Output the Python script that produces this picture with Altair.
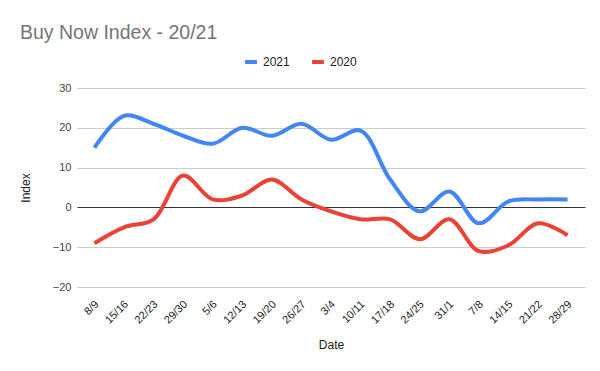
import altair as alt
import pandas as pd

dates = ["8/9", "15/16", "22/23", "29/30", "5/6", "12/13", "19/20", "26/27", "3/4",
         "10/11", "17/18", "24/25", "31/1", "7/8", "14/15", "21/22", "28/29"]
idx_2021 = [15, 23, 21, 18, 16, 20, 18, 21, 17, 19.3, 7, -1, 4, -4, 1.5, 2, 2]
idx_2020 = [-9, -5, -3, 8, 2, 3, 7, 2, -1, -3, -3, -8, -3, -11, -9.5, -4, -7]
series = ["2021", "2020"]
colors = ["#4285F4", "#EA4335"]
y_ticks = [-20, -10, 0, 10, 20, 30]

rows = []
for i, d in enumerate(dates):
    rows.append({"Date": d, "Index": idx_2021[i], "Series": "2021", "order": i})
    rows.append({"Date": d, "Index": idx_2020[i], "Series": "2020", "order": i})
df = pd.DataFrame(rows)

chart = alt.Chart(df).mark_line(interpolate="catmull-rom", strokeWidth=4, strokeCap="butt").encode(
    x=alt.X("Date:N", sort=dates, title="Date",
            scale=alt.Scale(type="point", padding=0.59),
            axis=alt.Axis(labelAngle=-45, labelAlign="right", labelBaseline="top",
                          ticks=False, domain=False, grid=False, labelOffset=-2,
                          labelFont="Arial", labelFontSize=11, labelColor="#222222",
                          titleFont="Arial", titleFontSize=12, titleFontWeight="normal",
                          titleColor="#222222", titlePadding=14, labelPadding=11)),
    y=alt.Y("Index:Q", title="Index",
            scale=alt.Scale(domain=[-20, 30], nice=False, zero=False),
            axis=alt.Axis(values=y_ticks, tickCount=6, ticks=False, domain=False,
                          labelOverlap=False,
                          gridColor={"condition": {"test": "datum.value === 0", "value": "#333333"},
                                     "value": "#cccccc"},
                          gridWidth=1,
                          labelFont="Arial", labelFontSize=11, labelColor="#444444",
                          labelPadding=6,
                          titleFont="Arial", titleFontSize=12, titleFontWeight="normal",
                          titleColor="#222222", titlePadding=20)),
    color=alt.Color("Series:N", sort=series,
                    scale=alt.Scale(domain=series, range=colors),
                    legend=alt.Legend(title=None, orient="none", direction="horizontal",
                                      legendX=166, legendY=-34,
                                      symbolType="stroke", symbolStrokeWidth=4,
                                      symbolSize=140, labelFont="Arial", labelFontSize=12,
                                      labelColor="#222222", columnPadding=14)),
    order="order:Q",
).properties(
    width=508, height=199,
    autosize=alt.AutoSizeParams(type="none"),
    padding={"left": 69, "top": 80, "right": 7, "bottom": 76},
    title=alt.Title("Buy Now Index - 20/21", anchor="start", frame="group", dx=-57, dy=-7,
                    font="Arial", fontSize=19.5, fontWeight="normal", color="#757575"),
).configure_view(stroke=None)

chart.save("out.html", embed_options={"renderer": "svg", "actions": False})
